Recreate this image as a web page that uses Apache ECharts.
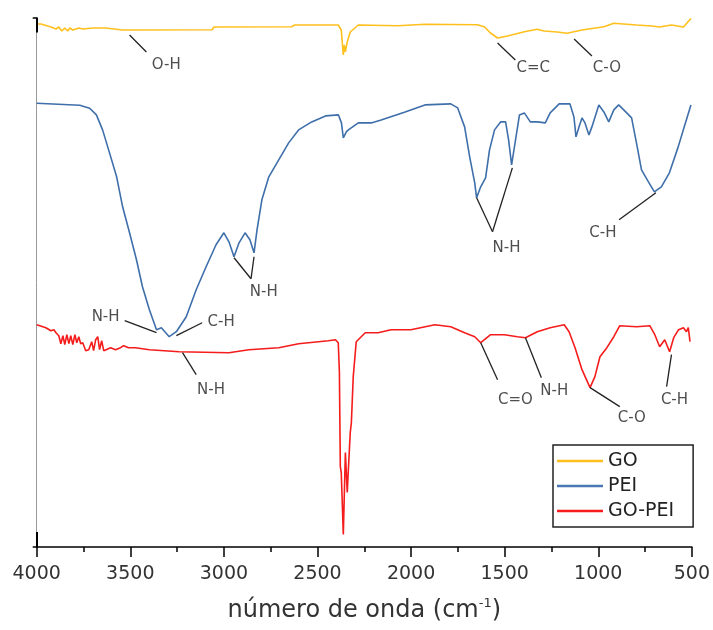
<!DOCTYPE html>
<html>
<head>
<meta charset="utf-8">
<title>FTIR GO / PEI / GO-PEI</title>
<script src="https://cdn.jsdelivr.net/npm/echarts@6.0.0/dist/echarts.min.js"></script>
<style>
  html, body { margin: 0; padding: 0; background: #fff; }
  #chart { width: 713px; height: 630px; }
</style>
</head>
<body>
<div id="chart"></div>
<script>
// Wavenumber axis (cm-1), drawn high to low
const xTicks = [4000, 3500, 3000, 2500, 2000, 1500, 1000, 500];

// GO spectrum (transmittance, arbitrary offset units)
const goWn = [4000, 3977, 3924, 3897, 3882, 3866, 3850, 3834, 3823, 3807, 3775, 3754, 3696, 3632, 3541, 3063, 3053, 2638, 2622, 2389, 2373, 2362, 2357, 2351, 2341, 2325, 2282, 2070, 1926, 1645, 1607, 1576, 1538, 1485, 1395, 1326, 1289, 1220, 1167, 1087, 970, 917, 795, 715, 673, 609, 545, 505];
const goT  = [523.5, 523.5, 520.5, 518.5, 520.5, 516.5, 519.5, 516.5, 519.5, 517.5, 519.5, 518.5, 519.5, 519.5, 517.5, 517.8, 520.5, 520.8, 522.5, 522.5, 517.5, 492.5, 502.5, 495.5, 505.5, 515.5, 522.5, 521.8, 523.2, 522.8, 520.5, 514.5, 509.5, 511.5, 515.8, 518.2, 516.5, 515.5, 514.2, 517.5, 520.8, 524.2, 522.5, 521.5, 520.5, 522.5, 520.5, 529];

// PEI spectrum
const peiWn = [4000, 3770, 3717, 3681, 3648, 3611, 3573, 3541, 3504, 3467, 3435, 3398, 3360, 3334, 3292, 3254, 3201, 3148, 3095, 3042, 3000, 2973, 2946, 2919, 2887, 2861, 2839, 2823, 2797, 2760, 2707, 2654, 2601, 2531, 2457, 2388, 2372, 2362, 2346, 2335, 2282, 2213, 2160, 2032, 1926, 1788, 1751, 1714, 1687, 1660, 1650, 1628, 1602, 1581, 1554, 1522, 1495, 1479, 1463, 1442, 1421, 1395, 1363, 1326, 1283, 1257, 1209, 1151, 1130, 1119, 1103, 1087, 1071, 1050, 1034, 997, 970, 944, 917, 891, 848, 822, 796, 769, 732, 700, 663, 620, 573, 541, 505];
const peiT  = [444.2, 442.2, 439.2, 432.5, 417.5, 394.5, 370.5, 340.5, 314.5, 287.5, 260.5, 237.5, 217.5, 219.5, 210.5, 215.5, 230.5, 257.5, 280.5, 302.5, 314.5, 305.5, 290.5, 304.5, 314.5, 307.5, 294.5, 317.5, 347.5, 370.5, 387.5, 404.5, 417.5, 425.5, 431.5, 432.5, 424.5, 409.5, 415.5, 417.5, 424.5, 424.5, 427.5, 435.5, 442.5, 443.5, 439.5, 420.5, 390.5, 364.5, 349.5, 360.5, 369.5, 397.5, 417.5, 425.5, 425.5, 407.5, 382.5, 407.5, 432.5, 434.5, 425.5, 425.5, 424.5, 434.5, 443.5, 443.5, 430.5, 410.5, 420.5, 429.5, 424.5, 412.5, 420.5, 442.5, 435.5, 425.5, 437.5, 442.5, 434.5, 429.5, 404.5, 377.5, 365.5, 355.5, 360.5, 374.5, 400.5, 420.5, 442.5];

// GO-PEI spectrum
const gopeiWn = [4000, 3951, 3924, 3908, 3897, 3882, 3871, 3860, 3850, 3839, 3828, 3818, 3807, 3796, 3786, 3775, 3765, 3754, 3738, 3722, 3706, 3696, 3685, 3674, 3664, 3653, 3642, 3632, 3605, 3579, 3552, 3536, 3509, 3472, 3398, 3239, 2973, 2867, 2707, 2601, 2442, 2404, 2389, 2383, 2378, 2373, 2362, 2351, 2341, 2335, 2325, 2319, 2309, 2293, 2245, 2176, 2107, 2001, 1873, 1788, 1714, 1660, 1628, 1575, 1501, 1432, 1389, 1326, 1257, 1182, 1156, 1124, 1087, 1044, 1018, 991, 954, 917, 885, 795, 725, 698, 672, 645, 619, 597, 571, 545, 529, 519, 510];
const gopeiT  = [222.5, 219.5, 216.5, 217.5, 214.5, 211.5, 203.5, 211.5, 202.5, 212.5, 203.5, 211.5, 202.5, 212.5, 204.5, 210.5, 203.5, 204.5, 196.5, 197.5, 205.5, 196.5, 207.5, 210.5, 197.5, 206.5, 196.5, 197.5, 199.5, 197.5, 199.5, 201.5, 199.5, 199.5, 197.5, 195.5, 194.5, 197.5, 199.5, 203.5, 206.5, 207.5, 204.5, 175.5, 80.5, 74.5, 12.5, 94.5, 54.5, 77.5, 114.5, 124.5, 170.5, 205.5, 214.5, 214.5, 217.5, 217.5, 222.5, 220.5, 214.5, 210.5, 204.5, 212.5, 212.5, 210.5, 209.5, 215.5, 219.5, 222.5, 215.5, 199.5, 177.5, 159.5, 170.5, 190.5, 199.5, 210.5, 221.5, 220.5, 221.5, 212.5, 200.5, 207.5, 195.5, 209.5, 217.5, 219.5, 215.5, 219.5, 205.5];

// Band assignments: label text and where it sits [wavenumber, signal]
const bandNames = ['O-H', 'C=C', 'C-O', 'N-H', 'C-H', 'N-H', 'N-H', 'C-H', 'N-H', 'C=O', 'N-H', 'C-O', 'C-H'];
const bandPos = [
  [3308, 482.5], [1347, 479.5], [954, 479.5],
  [3632, 230.5], [3015, 225.5], [2787, 255.5], [1490, 299.5], [975, 314.5],
  [3069, 157.5], [1443, 147.5], [1235, 156.5], [821, 129.5], [593, 147.5]
];
// Leader lines from each band to its label
const leaders = [
  [[3504, 512.5], [3414, 495.5]],
  [[1538, 504.5], [1443, 487.5]],
  [[1129, 508.5], [1034, 491.5]],
  [[3530, 226.5], [3360, 214.5]],
  [[3254, 211.5], [3116, 224.5]],
  [[2946, 289.5], [2855, 268.5]],
  [[2839, 290.5], [2855, 268.5]],
  [[1650, 349.5], [1565, 315.5]],
  [[1459, 379.5], [1565, 315.5]],
  [[692, 354.5], [889, 327.5]],
  [[3221, 194.5], [3148, 172.5]],
  [[1628, 204.5], [1538, 167.5]],
  [[1389, 209.5], [1304, 169.5]],
  [[1044, 159.5], [885, 140.5]],
  [[609, 192.5], [635, 160.5]]
];

const yMax = 530;

function pairs(xs, ys) { return xs.map((x, i) => [x, ys[i]]); }

const chart = echarts.init(document.getElementById('chart'), null, { renderer: 'canvas' });

const font = 'DejaVu Sans';

chart.setOption({
  animation: false,
  backgroundColor: '#ffffff',
  grid: { left: 36.7, right: 17.6, top: 17.5, bottom: 82.5, containLabel: false },
  legend: {
    data: ['GO', 'PEI', 'GO-PEI'],
    orient: 'vertical',
    left: 553,
    top: 445,
    icon: 'rect',
    itemWidth: 46,
    itemHeight: 2.5,
    itemGap: 3,
    padding: [5, 19, 5, 4],
    borderColor: '#222',
    borderWidth: 1.5,
    backgroundColor: '#fff',
    textStyle: { fontFamily: font, fontSize: 19, color: '#222', lineHeight: 22 }
  },
  xAxis: {
    type: 'value',
    inverse: true,
    min: 500,
    max: 4000,
    interval: 500,
    name: 'número de onda (cm{sup|-1})',
    nameLocation: 'middle',
    nameGap: 50,
    nameTextStyle: {
      fontFamily: font, fontSize: 24, color: '#333', lineHeight: 28,
      rich: { sup: { fontFamily: font, fontSize: 13, lineHeight: 14, verticalAlign: 'top', color: '#333' } }
    },
    axisLine: { show: true, onZero: false, lineStyle: { color: '#000', width: 1.5 } },
    axisTick: { show: true, inside: false, length: 10, lineStyle: { color: '#000', width: 1.5 } },
    minorTick: { show: true, splitNumber: 2, length: 5, lineStyle: { color: '#000', width: 1.5 } },
    axisLabel: {
      fontFamily: font, fontSize: 19, color: '#333', margin: 18,
      formatter: v => String(v)
    },
    splitLine: { show: false },
    minorSplitLine: { show: false }
  },
  yAxis: {
    type: 'value',
    min: 0,
    max: yMax,
    interval: yMax,
    axisLine: { show: true, lineStyle: { color: '#999', width: 1 } },
    axisTick: { show: true, length: 4, lineStyle: { color: '#000', width: 1.5 } },
    axisLabel: { show: false },
    splitLine: { show: false }
  },
  series: [
    {
      name: 'GO', type: 'line', data: pairs(goWn, goT),
      symbol: 'none', smooth: false, clip: false,
      lineStyle: { color: '#FFC01E', width: 1.6 },
      itemStyle: { color: '#FFC01E' }
    },
    {
      name: 'PEI', type: 'line', data: pairs(peiWn, peiT),
      symbol: 'none', smooth: false, clip: false,
      lineStyle: { color: '#3F6FAA', width: 1.6 },
      itemStyle: { color: '#4A78B2' }
    },
    {
      name: 'GO-PEI', type: 'line', data: pairs(gopeiWn, gopeiT),
      symbol: 'none', smooth: false, clip: false,
      lineStyle: { color: '#F51C1C', width: 1.6 },
      itemStyle: { color: '#F51C1C' },
      markLine: {
        silent: true,
        symbol: ['none', 'none'],
        label: { show: false },
        lineStyle: { color: '#222', width: 1.3, type: 'solid' },
        data: leaders.map(seg => [{ coord: seg[0] }, { coord: seg[1] }]).concat([
          // dark end caps on the left axis
          [{ coord: [4000, 0], lineStyle: { color: '#000', width: 2 } }, { coord: [4000, 15] }],
          [{ coord: [4000, yMax - 15], lineStyle: { color: '#000', width: 2 } }, { coord: [4000, yMax] }]
        ])
      }
    },
    {
      name: 'bandas', type: 'scatter',
      data: bandPos.map((p, i) => ({ name: bandNames[i], value: p })),
      symbolSize: 0,
      silent: true,
      label: {
        show: true, position: 'inside', formatter: '{b}',
        fontFamily: font, fontSize: 15, color: '#222'
      }
    }
  ]
});
</script>
</body>
</html>
